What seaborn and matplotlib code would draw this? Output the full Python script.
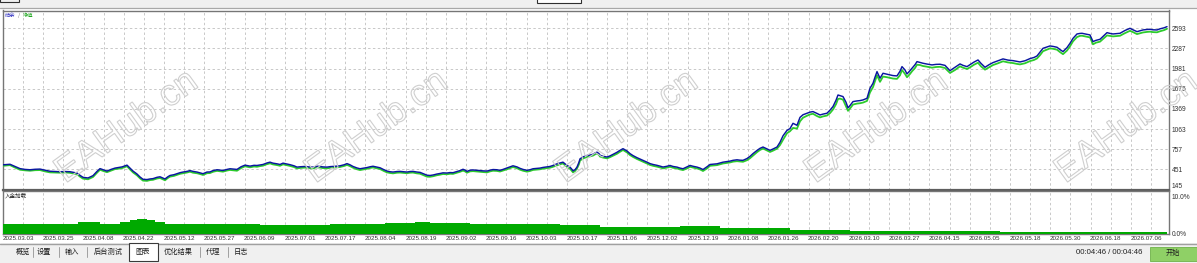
import numpy as np
import pandas as pd
import matplotlib
matplotlib.use("Agg")
import matplotlib.pyplot as plt
import seaborn as sns
from matplotlib.textpath import TextPath
from matplotlib.patches import PathPatch, Rectangle
from matplotlib.font_manager import FontProperties
from matplotlib.transforms import Affine2D, IdentityTransform
from matplotlib.lines import Line2D

# ---------------- data ----------------
trade_no = [
    3, 10, 15, 20, 25, 30, 35, 40, 45, 50,
    55, 60, 65, 70, 77, 80, 83, 88, 93, 97,
    100, 104, 107, 111, 115, 119, 122, 127, 130, 133,
    137, 140, 143, 147, 150, 153, 157, 160, 163, 165,
    168, 170, 174, 177, 180, 183, 187, 190, 193, 197,
    200, 203, 207, 210, 213, 217, 220, 223, 227, 230,
    233, 237, 241, 245, 250, 254, 257, 260, 263, 267,
    270, 273, 277, 280, 283, 287, 290, 294, 297, 300,
    305, 309, 313, 317, 320, 323, 327, 330, 333, 337,
    340, 344, 347, 350, 353, 357, 360, 364, 367, 370,
    373, 377, 380, 384, 387, 390, 393, 397, 400, 404,
    407, 410, 413, 417, 420, 424, 427, 430, 433, 437,
    440, 443, 447, 450, 453, 457, 460, 463, 465, 467,
    470, 473, 477, 480, 483, 487, 490, 493, 497, 500,
    503, 507, 510, 513, 517, 520, 523, 527, 530, 533,
    537, 540, 543, 547, 550, 553, 557, 560, 563, 565,
    567, 570, 572, 573, 575, 577, 579, 580, 583, 587,
    590, 593, 595, 597, 599, 600, 603, 607, 610, 613,
    617, 620, 623, 627, 630, 633, 637, 640, 643, 647,
    650, 653, 657, 660, 663, 667, 670, 673, 677, 680,
    683, 687, 690, 693, 697, 700, 703, 707, 710, 713,
    717, 720, 723, 727, 730, 733, 737, 740, 743, 747,
    750, 753, 757, 760, 763, 767, 770, 773, 777, 780,
    783, 787, 790, 793, 797, 800, 803, 807, 810, 813,
    817, 820, 823, 827, 830, 833, 836, 838, 840, 843,
    846, 848, 850, 853, 857, 860, 863, 867, 870, 873,
    875, 877, 880, 883, 887, 890, 893, 897, 900, 902,
    905, 907, 910, 912, 915, 917, 920, 923, 927, 932,
    936, 940, 945, 950, 955, 960, 963, 967, 970, 974,
    978, 981, 985, 989, 993, 998, 1003, 1008, 1013, 1017,
    1020, 1025, 1030, 1034, 1037, 1040, 1043, 1047, 1050, 1053,
    1057, 1060, 1063, 1067, 1070, 1073, 1077, 1080, 1082, 1086,
    1090, 1093, 1096, 1100, 1103, 1107, 1110, 1113, 1117, 1120,
    1125, 1130, 1133, 1137, 1140, 1143, 1147, 1150, 1153, 1157,
    1160, 1164, 1167,
]

balance = [
    520, 528, 495, 462, 450, 445, 452, 455, 438, 422,
    418, 415, 418, 415, 395, 360, 330, 320, 355, 420,
    462, 440, 425, 450, 470, 480, 488, 515, 470, 425,
    380, 335, 300, 296, 305, 310, 330, 338, 318, 305,
    340, 358, 370, 385, 400, 410, 420, 432, 420, 410,
    398, 385, 410, 412, 432, 445, 440, 434, 450, 460,
    455, 450, 490, 515, 500, 512, 510, 518, 525, 548,
    560, 545, 535, 525, 545, 532, 522, 505, 485, 490,
    495, 488, 485, 498, 495, 488, 485, 492, 495, 500,
    505, 520, 538, 520, 495, 472, 460, 470, 478, 490,
    498, 485, 475, 445, 425, 415, 410, 418, 420, 415,
    410, 418, 420, 410, 405, 380, 362, 358, 365, 380,
    388, 398, 395, 402, 400, 418, 432, 452, 440, 420,
    438, 442, 436, 432, 428, 425, 438, 448, 445, 436,
    450, 472, 490, 505, 488, 466, 450, 436, 445, 460,
    466, 470, 480, 488, 495, 510, 535, 548, 560, 535,
    510, 485, 450, 428, 445, 485, 560, 610, 640, 662,
    668, 680, 700, 712, 690, 665, 650, 638, 655, 678,
    710, 740, 765, 730, 690, 660, 628, 608, 588, 560,
    538, 525, 512, 500, 486, 498, 510, 495, 485, 470,
    460, 488, 510, 498, 485, 470, 448, 490, 525, 530,
    535, 548, 560, 570, 576, 588, 596, 590, 588, 615,
    648, 690, 738, 770, 790, 762, 740, 760, 790, 862,
    960, 1043, 1070, 1150, 1120, 1240, 1280, 1303, 1320, 1328,
    1300, 1277, 1290, 1303, 1350, 1405, 1500, 1580, 1570, 1556,
    1470, 1385, 1420, 1480, 1490, 1495, 1505, 1530, 1682, 1758,
    1850, 1935, 1834, 1910, 1895, 1885, 1875, 1870, 1940, 2011,
    1960, 1900, 1950, 1986, 2040, 2087, 2075, 2062, 2050, 2037,
    2045, 2047, 2030, 1950, 2000, 2052, 2030, 2011, 2040, 2080,
    2112, 2060, 2001, 2040, 2072, 2100, 2128, 2110, 2102, 2090,
    2082, 2100, 2133, 2150, 2173, 2230, 2289, 2310, 2325, 2318,
    2305, 2270, 2239, 2300, 2365, 2440, 2507, 2515, 2517, 2505,
    2492, 2391, 2410, 2426, 2470, 2527, 2515, 2507, 2512, 2517,
    2560, 2593, 2570, 2542, 2555, 2568, 2575, 2578, 2570, 2568,
    2585, 2600, 2618,
]

equity = [
    505, 515, 478, 445, 436, 430, 438, 440, 420, 405,
    402, 400, 404, 398, 378, 340, 310, 300, 335, 400,
    445, 422, 408, 432, 455, 462, 470, 498, 450, 405,
    360, 315, 280, 276, 288, 292, 312, 320, 298, 285,
    322, 340, 352, 368, 383, 392, 403, 415, 400, 392,
    380, 366, 392, 395, 414, 428, 422, 416, 433, 442,
    437, 430, 470, 497, 482, 494, 490, 500, 507, 530,
    542, 526, 516, 505, 527, 514, 503, 486, 465, 472,
    478, 470, 466, 480, 478, 470, 466, 474, 477, 482,
    487, 502, 518, 500, 476, 452, 440, 452, 460, 472,
    480, 466, 456, 425, 405, 396, 390, 400, 402, 396,
    392, 400, 402, 390, 385, 360, 340, 338, 346, 362,
    370, 380, 376, 384, 382, 400, 414, 432, 420, 400,
    420, 424, 418, 414, 410, 405, 420, 430, 427, 418,
    432, 452, 470, 486, 468, 446, 430, 416, 426, 442,
    448, 452, 462, 470, 476, 490, 512, 528, 540, 515,
    488, 462, 425, 405, 425, 465, 530, 585, 615, 640,
    648, 660, 678, 692, 668, 645, 630, 618, 636, 658,
    688, 718, 745, 708, 668, 640, 608, 588, 568, 540,
    518, 505, 492, 480, 466, 478, 490, 475, 465, 450,
    440, 465, 490, 478, 465, 450, 426, 465, 505, 510,
    515, 528, 540, 550, 556, 568, 575, 570, 566, 590,
    620, 660, 712, 745, 768, 738, 715, 735, 765, 820,
    900, 1000, 1030, 1080, 1070, 1180, 1235, 1265, 1285, 1295,
    1260, 1240, 1255, 1268, 1305, 1360, 1440, 1520, 1525, 1510,
    1410, 1340, 1375, 1435, 1450, 1455, 1465, 1490, 1620, 1700,
    1790, 1880, 1780, 1860, 1850, 1840, 1830, 1825, 1880, 1960,
    1900, 1850, 1900, 1940, 1990, 2040, 2035, 2020, 2010, 1995,
    2005, 2008, 1990, 1915, 1960, 2015, 1995, 1975, 2000, 2040,
    2070, 2015, 1965, 2000, 2035, 2062, 2092, 2075, 2065, 2052,
    2045, 2062, 2095, 2112, 2135, 2185, 2245, 2270, 2288, 2282,
    2268, 2232, 2200, 2255, 2320, 2395, 2460, 2478, 2480, 2468,
    2455, 2350, 2375, 2390, 2430, 2485, 2478, 2470, 2476, 2480,
    2520, 2555, 2535, 2505, 2518, 2530, 2538, 2542, 2535, 2532,
    2548, 2565, 2585,
]

# deposit load (%) segments: start trade and level
load_start = [3, 78, 100, 120, 130, 137, 147, 155, 165, 200, 260, 330, 385,
              415, 430, 470, 500, 560, 600, 640, 680, 720, 790, 850, 1000, 1100, 1167]
load_pct = [2.4, 3.1, 2.6, 3.0, 3.4, 3.7, 3.5, 3.1, 2.6, 2.5, 2.25, 2.4, 2.7,
            2.9, 2.7, 2.5, 2.4, 2.3, 1.85, 1.7, 2.0, 1.6, 1.0, 0.75, 0.5, 0.4, 0.4]

date_labels = ["2025.03.03", "2025.03.25", "2025.04.08", "2025.04.22", "2025.05.12",
               "2025.05.27", "2025.06.09", "2025.07.01", "2025.07.17", "2025.08.04",
               "2025.08.19", "2025.09.02", "2025.09.16", "2025.10.03", "2025.10.17",
               "2025.11.06", "2025.12.02", "2025.12.19", "2026.01.08", "2026.01.26",
               "2026.02.20", "2026.03.10", "2026.03.27", "2026.04.15", "2026.05.05",
               "2026.05.18", "2026.05.30", "2026.06.18", "2026.07.06"]
price_ticks = [145, 451, 757, 1063, 1369, 1675, 1981, 2287, 2593]
load_ticks = [0.0, 10.0]
tab_labels = ["概览", "设置", "输入", "后台测试", "图表", "优化结果", "代理", "日志"]
legend_parts = ["结余", "/", "净值"]
panel2_title = "入金加载"
timer_text = "00:04:46 / 00:04:46"
button_text = "开始"
watermark = "EAHub.cn"

# ---------------- style ----------------
sns.set_style("white")
plt.rcParams['font.family'] = ['Liberation Sans', 'Noto Sans CJK SC', 'DejaVu Sans']
CJK = ['Noto Sans CJK SC', 'DejaVu Sans']

BLUE = '#0a16a0'
GREEN = '#2ccc2c'
BARGREEN = '#00aa00'
GRID = '#c8c8c8'
SPINE = '#767676'

W, H = 1197, 263
fig = plt.figure(figsize=(W / 100, H / 100), dpi=100)
fig.patch.set_facecolor('white')

def fx(px):
    return px / W

def fy(py):
    return 1 - py / H

def rect(x0, y0, x1, y1, **kw):
    r = Rectangle((fx(x0), fy(y1)), (x1 - x0) / W, (y1 - y0) / H,
                  transform=fig.transFigure, **kw)
    fig.add_artist(r)
    return r

def hline(x0, x1, y, **kw):
    fig.add_artist(Line2D([fx(x0), fx(x1)], [fy(y), fy(y)], transform=fig.transFigure, **kw))

def vline(x, y0, y1, **kw):
    fig.add_artist(Line2D([fx(x), fx(x)], [fy(y0), fy(y1)], transform=fig.transFigure, **kw))

X0, X1 = 2.5, 1168.5
ax = fig.add_axes([fx(X0), fy(189.5), (X1 - X0) / W, (189.5 - 10.5) / H])
ax2 = fig.add_axes([fx(X0), fy(234), (X1 - X0) / W, (234 - 191) / H])

df = pd.DataFrame({"trade": trade_no, "balance": balance, "equity": equity})
sns.lineplot(data=df, x="trade", y="equity", ax=ax, color=GREEN, lw=1.3,
             estimator=None, sort=False, legend=False, zorder=3)
sns.lineplot(data=df, x="trade", y="balance", ax=ax, color=BLUE, lw=1.05,
             estimator=None, sort=False, legend=False, zorder=4)

grid_pos = np.linspace(23.1, 1151, 57)
label_pos = np.linspace(18, 1146, len(date_labels))

for a in (ax, ax2):
    a.set_xlim(X0, X1)
    a.set_facecolor('white')
    a.set_xticks(grid_pos, minor=True)
    a.grid(True, which='minor', axis='x', color=GRID, ls=(0, (2.5, 2.5)), lw=0.7)
    for s in a.spines.values():
        s.set_color(SPINE)
        s.set_linewidth(1.0)
    a.tick_params(which='both', length=0)
    a.yaxis.tick_right()
    a.set_xlabel("")
    a.set_ylabel("")

ax.set_ylim(145, 145 + 179 * 306 / 20.15)
ax.set_yticks(price_ticks)
ax.set_yticklabels([str(v) for v in price_ticks], fontsize=4.8, color='#303030')
ax.tick_params(axis='y', pad=2.5)
ax.get_yticklabels()[0].set_va('bottom')
ax.grid(True, which='major', axis='y', color=GRID, ls=(0, (2.5, 2.5)), lw=0.7)
ax.set_xticks([])
ax.spines['bottom'].set_linewidth(1.6)
ax.spines['bottom'].set_color('#5e5e5e')

ax2.fill_between(load_start, load_pct, 0, step='post', color=BARGREEN, lw=0, zorder=3)
ax2.set_ylim(0, 10.75)
ax2.set_yticks(load_ticks)
ax2.set_yticklabels(["0.0%", "10.0%"], fontsize=4.8, color='#303030')
ax2.tick_params(axis='y', pad=2.5)
ax2.get_yticklabels()[1].set_va('top')
ax2.set_xticks(label_pos)
ax2.set_xticklabels(date_labels, fontsize=4.5, color='#303030')
ax2.tick_params(axis='x', pad=1.6)

# legend texts
fig.text(fx(5), fy(15.5), legend_parts[0], color='#3030c0', fontsize=3.8, family=CJK, va='center')
fig.text(fx(18), fy(15.5), legend_parts[1], color='#707070', fontsize=3.8, family=CJK, va='center')
fig.text(fx(22.5), fy(15.5), legend_parts[2], color='#20a820', fontsize=3.8, family=CJK, va='center')
fig.text(fx(5), fy(196), panel2_title, color='#202020', fontsize=4.0, family=CJK, va='center')

# top toolbar strip
rect(0, 0, W, 7.5, fc='#f0f0f0', ec='none', zorder=1)
hline(0, W, 7.5, color='#a8a8a8', lw=0.9)
rect(0, -2, 19, 2, fc='#f0f0f0', ec='#303030', lw=0.8, zorder=2)
rect(537, -2, 581, 3, fc='white', ec='#303030', lw=0.8, zorder=2)

# bottom tab bar
rect(0, 243, W, H, fc='#f0f0f0', ec='none', zorder=1)
hline(0, W, 243.5, color='#a0a0a0', lw=1.0)
rect(129, 242.5, 157.5, 261, fc='white', ec='#3a3a3a', lw=0.8, zorder=2)
tab_x = [23, 44, 72, 108, 143, 178, 213, 241]
for t, x in zip(tab_labels, tab_x):
    fig.text(fx(x), fy(252), t, fontsize=5.2, family=CJK, ha='center', va='center',
             color='#202020', zorder=3)
for x in [33, 59, 87, 200, 228]:
    vline(x, 247, 257, color='#a0a0a0', lw=0.7)
fig.text(fx(1109), fy(252.5), timer_text, fontsize=5.6, ha='center', va='center', color='#202020')
rect(1150, 246.5, W + 2, 260.5, fc='#8fd066', ec='#6fb24a', lw=0.6, zorder=2)
fig.text(fx(1173), fy(253), button_text, fontsize=5.2, family=CJK, ha='center', va='center',
         color='#202020', zorder=3)

# watermarks
fp = FontProperties(family='Liberation Sans')
tp = TextPath((0, 0), watermark, size=37, prop=fp)
bb = tp.get_extents()
ccx, ccy = (bb.x0 + bb.x1) / 2, (bb.y0 + bb.y1) / 2
for cxp in [125, 375, 625, 875, 1125]:
    tr = Affine2D().translate(-ccx, -ccy).rotate_deg(36).translate(cxp, H - 124)
    patch = PathPatch(tr.transform_path(tp), fc='none', ec='#cfcfcf', lw=0.8,
                      transform=IdentityTransform(), zorder=10)
    fig.add_artist(patch)

fig.savefig("out.png", dpi=100, facecolor=fig.get_facecolor())
